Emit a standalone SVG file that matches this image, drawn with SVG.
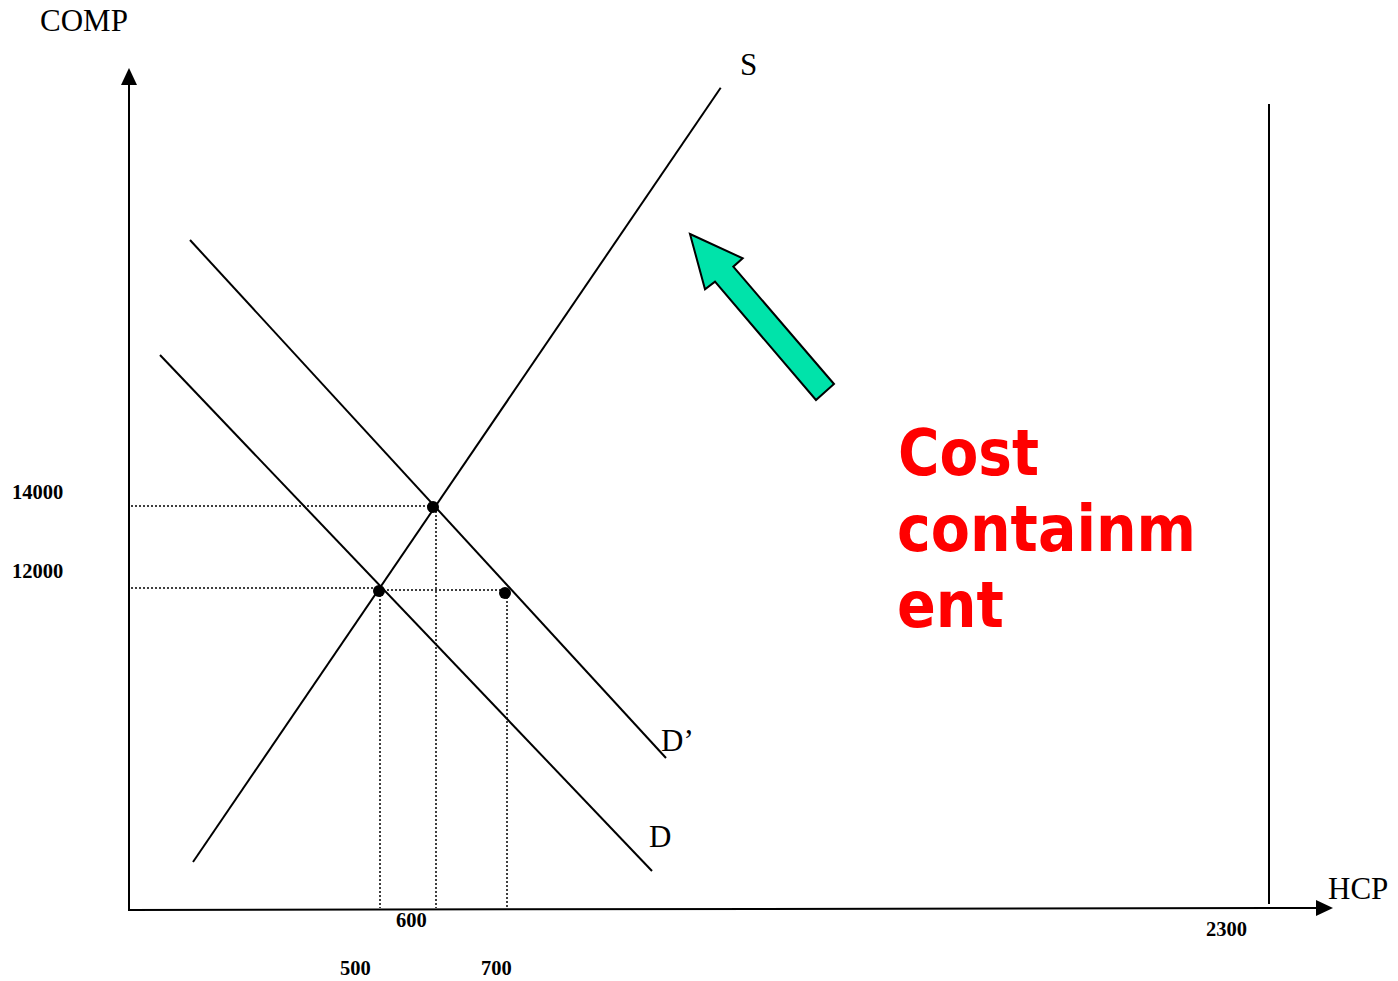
<svg xmlns="http://www.w3.org/2000/svg" width="1398" height="981" viewBox="0 0 1398 981">
<style>
.ln{stroke:#000;stroke-width:2;fill:none}
.dot{stroke:#000;stroke-width:1.5;stroke-dasharray:2 2;fill:none}
.lbl{font-family:"Liberation Serif","Times New Roman",serif;font-size:31px;fill:#000}
.num{font-family:"Liberation Serif","Times New Roman",serif;font-size:20.5px;font-weight:bold;fill:#000}
.big{font-family:"DejaVu Sans",Verdana,sans-serif;font-size:64px;font-weight:bold;fill:#ff0000}
</style>
<rect width="1398" height="981" fill="#fff"/>
<g id="axes">
<line class="ln" x1="129" y1="911" x2="129" y2="82"/>
<path d="M121,85 L129,68 L137,85 z" fill="#000"/>
<line class="ln" x1="129" y1="910" x2="1318" y2="908"/>
<path d="M1316,900 L1333,908 L1316,916 z" fill="#000"/>
<line class="ln" x1="1269" y1="104" x2="1269" y2="904"/>
</g>
<g id="connectors">
<line class="ln" x1="193" y1="862" x2="720.7" y2="87.7"/>
<line class="ln" x1="190" y1="240" x2="666" y2="758"/>
<line class="ln" x1="160" y1="355" x2="652" y2="871"/>
<line class="dot" x1="131" y1="506" x2="433" y2="506"/>
<line class="dot" x1="131" y1="588" x2="379" y2="588"/>
<line class="dot" x1="379" y1="590" x2="505" y2="590"/>
<line class="dot" x1="380" y1="591" x2="380" y2="908"/>
<line class="dot" x1="436" y1="507" x2="436" y2="908"/>
<line class="dot" x1="507" y1="593" x2="507" y2="908"/>
</g>
<g id="points">
<circle cx="433" cy="507" r="6" fill="#000"/>
<circle cx="379" cy="591" r="6" fill="#000"/>
<circle cx="505" cy="593" r="6" fill="#000"/>
</g>
<g id="shift-arrow">
<polygon points="690,234 742.7,258.3 733.3,266.7 834,384 816,400 715,281.7 705,289.3" fill="#00e3aa" stroke="#000" stroke-width="2" stroke-linejoin="miter"/>
</g>
<g id="labels">
<text class="lbl" x="40" y="31">COMP</text>
<text class="lbl" x="740" y="75">S</text>
<text class="lbl" x="661" y="751">D’</text>
<text class="lbl" x="649" y="847">D</text>
<text class="lbl" x="1328" y="899">HCP</text>
<text class="num" x="12" y="499">14000</text>
<text class="num" x="12" y="578">12000</text>
<text class="num" x="396" y="927">600</text>
<text class="num" x="340" y="975">500</text>
<text class="num" x="481" y="975">700</text>
<text class="num" x="1206" y="936">2300</text>
</g>
<g id="cost-containment">
<text class="big" x="898" y="475" textLength="141" lengthAdjust="spacingAndGlyphs">Cost</text>
<text class="big" x="897" y="551" textLength="299" lengthAdjust="spacingAndGlyphs">containm</text>
<text class="big" x="897" y="627" textLength="107" lengthAdjust="spacingAndGlyphs">ent</text>
</g>
</svg>
